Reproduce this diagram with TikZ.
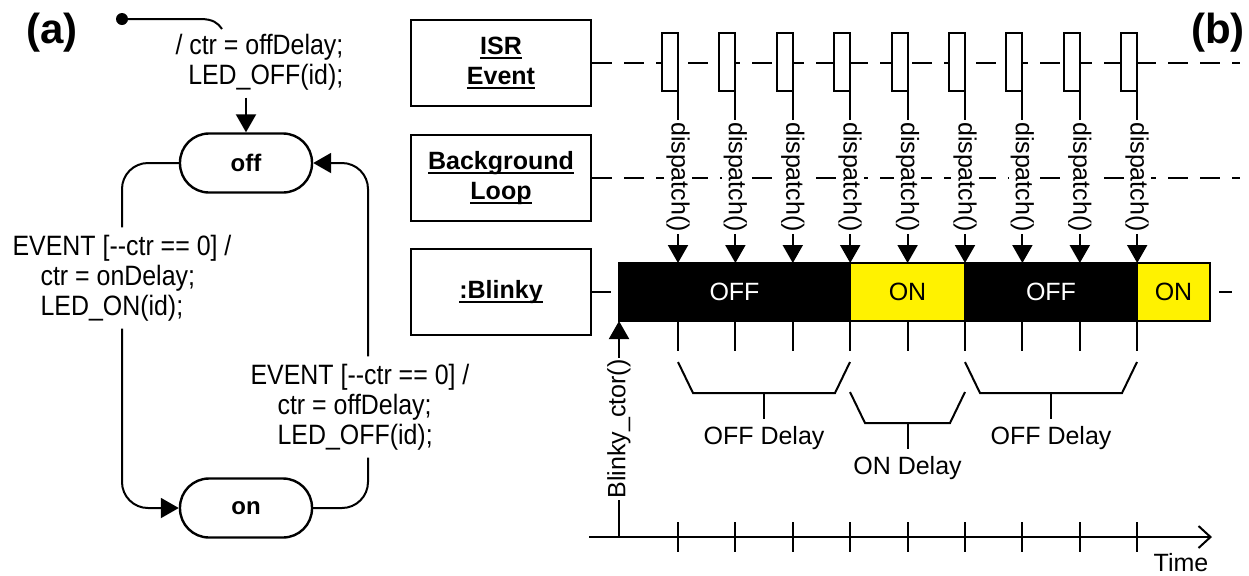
\documentclass[tikz,border=0pt]{standalone}
\usepackage{fontspec}
\setmainfont{Liberation Sans}
\newfontfamily\tallfont{Liberation Sans}[FakeStretch=0.89]
\usepackage{tikz}
\usetikzlibrary{arrows.meta, positioning, calc}

\newcommand{\ulbox}[1]{\setbox0\hbox{#1}\rlap{\rule[-2.5pt]{\wd0}{1.1pt}}\box0}

\begin{document}
\begin{tikzpicture}[x=0.5pt, y=-0.5pt, line width=1pt,
    font=\fontsize{12.5}{15}\selectfont,
    tip/.style={-{Triangle[length=9pt,width=10pt]}},
    state/.style={draw, line width=1.2pt, rounded corners=14.5pt,
                  minimum width=66pt, minimum height=29.5pt,
                  font=\fontsize{12}{14}\selectfont\bfseries},
    trans/.style={font=\tallfont\fontsize{14}{15}\selectfont},
    lifebox/.style={draw, minimum width=90pt, minimum height=43pt,
                    align=center, font=\fontsize{12.5}{15}\selectfont\bfseries},
    act/.style={draw, fill=white, minimum width=8pt, minimum height=29pt,
                inner sep=0pt, outer sep=0pt, anchor=north east},
    seg/.style={draw, minimum height=29pt, inner sep=0pt, outer sep=0pt},
    call/.style={fill=white, inner sep=1pt},
    lifeline/.style={dash pattern=on 10pt off 6pt},
    panel/.style={font=\fontsize{21}{25}\selectfont\bfseries}]

\useasboundingbox (0,0) rectangle (1249,575);

% ── (a) state machine ───────────────────────────────────────
\node[panel] (pa) at (52,33) {(a)};

\coordinate (init) at (122,19);
\coordinate (initend) at (222,29);
\fill (init) circle (3pt);
\draw (init) -- (200,19) .. controls (213,19) and (218,23) .. (initend);
\node[trans, align=right, anchor=east] (initlbl) at (351,62)
    {/ ctr = offDelay;\\LED\_OFF(id);};

\node[state] (stoff) at (246,163) {off};
\node[state] (ston) at (246,508) {on};
\draw[tip] (initlbl.south -| stoff.north) -- (stoff.north);

\node[trans, align=left] (evon) at (122,278)
    {EVENT [-{}-ctr == 0] /\\\hspace*{14pt}ctr = onDelay;\\\hspace*{14pt}LED\_ON(id);};
\node[trans, align=left] (evoff) at (360,407)
    {EVENT [-{}-ctr == 0] /\\\hspace*{13.5pt}ctr = offDelay;\\\hspace*{13.5pt}LED\_OFF(id);};

\draw[rounded corners=13pt] (stoff.west) -| (evon.north);
\draw[tip, rounded corners=13pt] (evon.south) |- (ston.west);
\draw[rounded corners=13pt] (ston.east) -| ([xshift=4pt]evoff.south);
\draw[tip, rounded corners=13pt] ([xshift=4pt]evoff.north) |- (stoff.east);

% ── (b) sequence / timing ───────────────────────────────────
\node[panel] (pb) at (1218,33) {(b)};

\node[lifebox] (isr) at (501,63) {\ulbox{ISR}\\\ulbox{Event}};
\node[lifebox] (bgloop) at (501,178) {\ulbox{Background}\\\ulbox{Loop}};
\node[lifebox] (blinky) at (501,292) {\ulbox{:Blinky}};

\coordinate (isrend) at (1240,63);
\coordinate (bgend) at (1240,178);
\draw[lifeline] (isr.east) -- (isrend);
\draw[lifeline] (bgloop.east) -- (bgend);

% state bar
\node[seg, fill=black, text=white, minimum width=115.5pt, anchor=north west]
    (offbar1) at (619,263) {OFF};
\node[seg, fill=yellow, minimum width=57.5pt, right=0pt of offbar1] (onbar1) {ON};
\node[seg, fill=black, text=white, minimum width=86pt, right=0pt of onbar1] (offbar2) {OFF};
\node[seg, fill=yellow, minimum width=36.5pt, right=0pt of offbar2] (onbar2) {ON};
\draw (blinky.east) -- ++(19,0);
\draw ([xshift=4.5pt]onbar2.east) -- ++(13,0);

% time axis
\coordinate (t0) at (589,537);
\coordinate (t1) at (1212,537);
\draw[-{Straight Barb[length=6pt,width=11pt]}] (t0) -- (t1);
\node (timelbl) at (1181,563) {Time};

% events, dispatches and ticks
\foreach \i in {0,...,8} {
  \node[act] (act\i) at (678+57.4*\i,33) {};
  \draw[tip] (act\i.south east) -- (act\i.south east |- offbar1.north)
      node[midway, call, rotate=-90] (disp\i) {dispatch()};
  \draw (act\i.south east |- offbar1.south) -- ++(0,30);
  \draw (act\i.south east |- t0) ++(0,-15) -- ++(0,30);
}

\coordinate (ctor) at (619,537);
\draw[tip] (ctor) -- (offbar1.south west)
    node[midway, call, rotate=90] (ctorlbl) {Blinky\_ctor()};

% delay brackets
\foreach \xa/\xb/\yt/\nm/\txt in {678/850/362/offd1/OFF Delay,
                                  850/965/392/ond/ON Delay,
                                  965/1137/362/offd2/OFF Delay} {
  \draw (\xa,\yt) -- (\xa+15,\yt+31) -- (\xb-15,\yt+31) -- (\xb,\yt);
  \draw ({(\xa+\xb)/2},\yt+31) -- ++(0,26)
      node[anchor=north, inner sep=3pt] (\nm) {\txt};
}

\end{tikzpicture}
\end{document}
